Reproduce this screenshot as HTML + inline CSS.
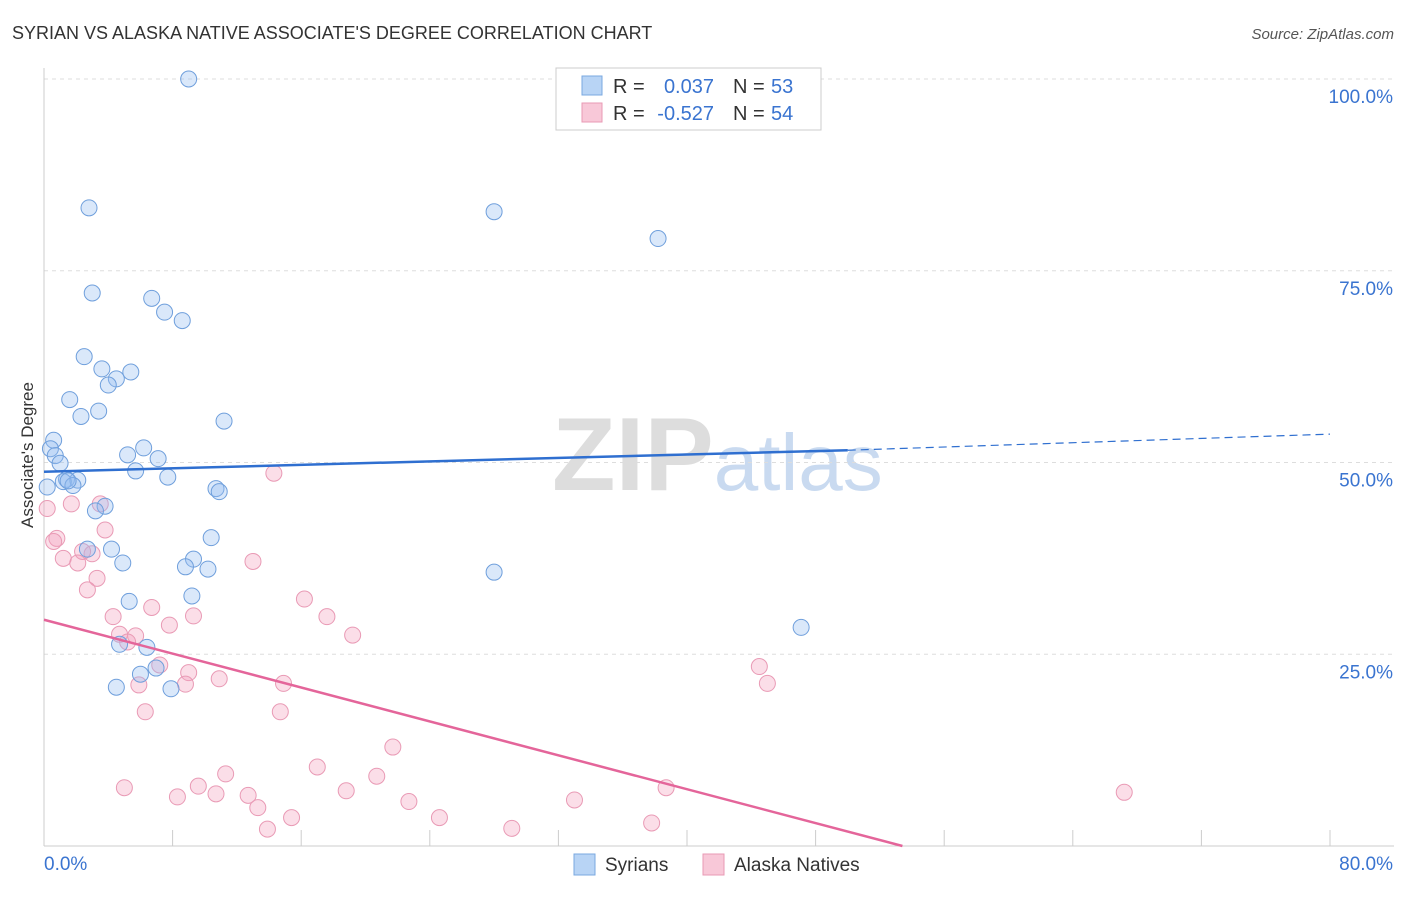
<!DOCTYPE html>
<html><head><meta charset="utf-8"><style>
body{margin:0;background:#fff;font-family:"Liberation Sans",sans-serif}
svg text{font-family:"Liberation Sans",sans-serif}
</style></head><body>
<svg id="chart" width="1406" height="892" viewBox="0 0 1406 892" xmlns="http://www.w3.org/2000/svg">
<text x="12" y="39" font-size="18" fill="#333">SYRIAN VS ALASKA NATIVE ASSOCIATE'S DEGREE CORRELATION CHART</text>
<text x="1394" y="39" font-size="15" font-style="italic" fill="#555" text-anchor="end">Source: ZipAtlas.com</text>
<text x="552" y="490" font-size="104" font-family="Liberation Serif" fill="#ddd" font-weight="bold">ZIP<tspan fill="#c9daf0" font-family="Liberation Sans" font-weight="normal" font-size="80">atlas</tspan></text>
<g id="grid"></g><g id="axes"></g><g id="pts"></g><g id="lines"></g>
<text transform="translate(33,455) rotate(-90)" font-size="17" fill="#333" text-anchor="middle">Associate's Degree</text>
<g>
<rect x="556" y="68" width="265" height="62" fill="#fff" stroke="#ccc"/>
<rect x="582" y="76" width="20" height="19" fill="#b8d4f5" stroke="#7aa8e0"/>
<rect x="582" y="103" width="20" height="19" fill="#f8c8d8" stroke="#e89ab4"/>
<text x="613" y="93" font-size="20" fill="#333">R =</text>
<text x="714" y="93" font-size="20" fill="#3a74d0" text-anchor="end">0.037</text>
<text x="733" y="93" font-size="20" fill="#333">N =</text>
<text x="771" y="93" font-size="20" fill="#3a74d0">53</text>
<text x="613" y="120" font-size="20" fill="#333">R =</text>
<text x="714" y="120" font-size="20" fill="#3a74d0" text-anchor="end">-0.527</text>
<text x="733" y="120" font-size="20" fill="#333">N =</text>
<text x="771" y="120" font-size="20" fill="#3a74d0">54</text>
</g>
<g>
<rect x="574" y="854" width="21" height="21" fill="#b8d4f5" stroke="#7aa8e0"/>
<text x="605" y="871" font-size="19" fill="#333">Syrians</text>
<rect x="703" y="854" width="21" height="21" fill="#f8c8d8" stroke="#e89ab4"/>
<text x="734" y="871" font-size="19" fill="#333">Alaska Natives</text>
</g>
</svg>
<script>
const syrX=[9,2.8,28,38.2,3,6.7,7.5,8.6,2.5,3.6,5.4,4.5,4,1.6,3.4,2.3,11.2,0.6,0.4,0.7,6.2,5.2,7.1,1,5.7,7.7,1.4,2.1,1.2,1.8,10.7,10.9,3.8,3.2,10.4,2.7,4.2,4.9,9.3,8.8,10.2,28,9.2,5.3,47.1,4.7,6.4,6.97,6,4.5,7.9,0.2,1.5];
const syrY=[100,83.2,82.7,79.2,72.1,71.4,69.6,68.5,63.8,62.2,61.8,60.9,60.1,58.2,56.7,56,55.4,52.9,51.8,50.9,51.9,51,50.5,49.9,48.9,48.1,47.8,47.7,47.5,47,46.6,46.2,44.3,43.7,40.2,38.7,38.7,36.9,37.4,36.4,36.1,35.7,32.6,31.9,28.5,26.3,25.9,23.2,22.4,20.7,20.5,46.8,47.6];
const akX=[14.3,3.5,1.7,0.2,3.8,0.8,0.6,2.99,2.4,1.2,2.1,13,3.3,2.7,16.2,6.7,4.3,9.3,17.6,7.8,4.7,5.7,19.2,5.2,7.2,9,44.5,10.9,14.9,8.8,5.9,45,6.3,14.7,21.7,17,11.3,20.7,5,9.6,38.7,18.8,12.7,8.3,10.7,67.2,22.7,33,13.3,15.4,24.6,13.9,29.1,37.8];
const akY=[48.6,44.6,44.6,44,41.2,40.1,39.7,38.1,38.4,37.5,36.9,37.1,34.9,33.4,32.2,31.1,29.9,30,29.9,28.8,27.6,27.4,27.5,26.6,23.6,22.6,23.4,21.8,21.2,21.1,21,21.2,17.5,17.5,12.9,10.3,9.4,9.1,7.6,7.8,7.6,7.2,6.6,6.4,6.8,7,5.8,6,5,3.7,3.7,2.2,2.3,3
];
const regSyr=[48.8,51.6,53.7];
const regAk=[29.5,0];
const xTicks=["0.0%","80.0%"];
const yTicks=[25,50,75,100];
const X=v=>44+v*16.075, Y=v=>846-v*7.67;
const NS="http://www.w3.org/2000/svg";
function mk(p,t,a){const e=document.createElementNS(NS,t);for(const k in a)e.setAttribute(k,a[k]);p.appendChild(e);return e;}
const grid=document.getElementById('grid'),axes=document.getElementById('axes'),pts=document.getElementById('pts'),lines=document.getElementById('lines');
yTicks.forEach(t=>{
 const l=mk(grid,'line',{x1:44,x2:1394,y1:Y(t),y2:Y(t),stroke:'#ddd','stroke-dasharray':'4,4'});
 
 
 const tx=mk(grid,'text',{x:1393,y:Y(t)+24,'font-size':19,fill:'#3a74d0','text-anchor':'end'});tx.textContent=t.toFixed(1)+'%';
 
 
});
const ax=mk(axes,'line',{x1:44,x2:44,y1:68,y2:846,stroke:'#ccc'});


const bx=mk(axes,'line',{x1:44,x2:1394,y1:846,y2:846,stroke:'#ccc'});


for(let i=0;i<=10;i++){const t=mk(axes,'line',{x1:X(i*8),x2:X(i*8),y1:830,y2:846,stroke:'#ccc'});
 
 }
const t0=mk(axes,'text',{x:44,y:870,'font-size':19,fill:'#3a74d0'});t0.textContent=xTicks[0];


const t1=mk(axes,'text',{x:1393,y:870,'font-size':19,fill:'#3a74d0','text-anchor':'end'});t1.textContent=xTicks[1];


akX.forEach((x,i)=>{const c=mk(pts,'circle',{cx:X(x),cy:Y(akY[i]),r:8,fill:'rgba(244,160,188,0.35)',stroke:'#e99ab5','stroke-width':1});
 
 });
syrX.forEach((x,i)=>{const c=mk(pts,'circle',{cx:X(x),cy:Y(syrY[i]),r:8,fill:'rgba(150,190,240,0.35)',stroke:'#6f9fdc','stroke-width':1});
 
 });
const l1=mk(lines,'line',{x1:X(0),y1:Y(regSyr[0]),x2:X(50),y2:Y(regSyr[1]),stroke:'#2f6fd0','stroke-width':2.5});


const l2=mk(lines,'line',{x1:X(50),y1:Y(regSyr[1]),x2:X(80),y2:Y(regSyr[2]),stroke:'#2f6fd0','stroke-width':1.2,'stroke-dasharray':'8,5'});


const l3=mk(lines,'line',{x1:X(0),y1:Y(regAk[0]),x2:X(53.4),y2:Y(regAk[1]),stroke:'#e4659a','stroke-width':2.5});


</script>
</body></html>
